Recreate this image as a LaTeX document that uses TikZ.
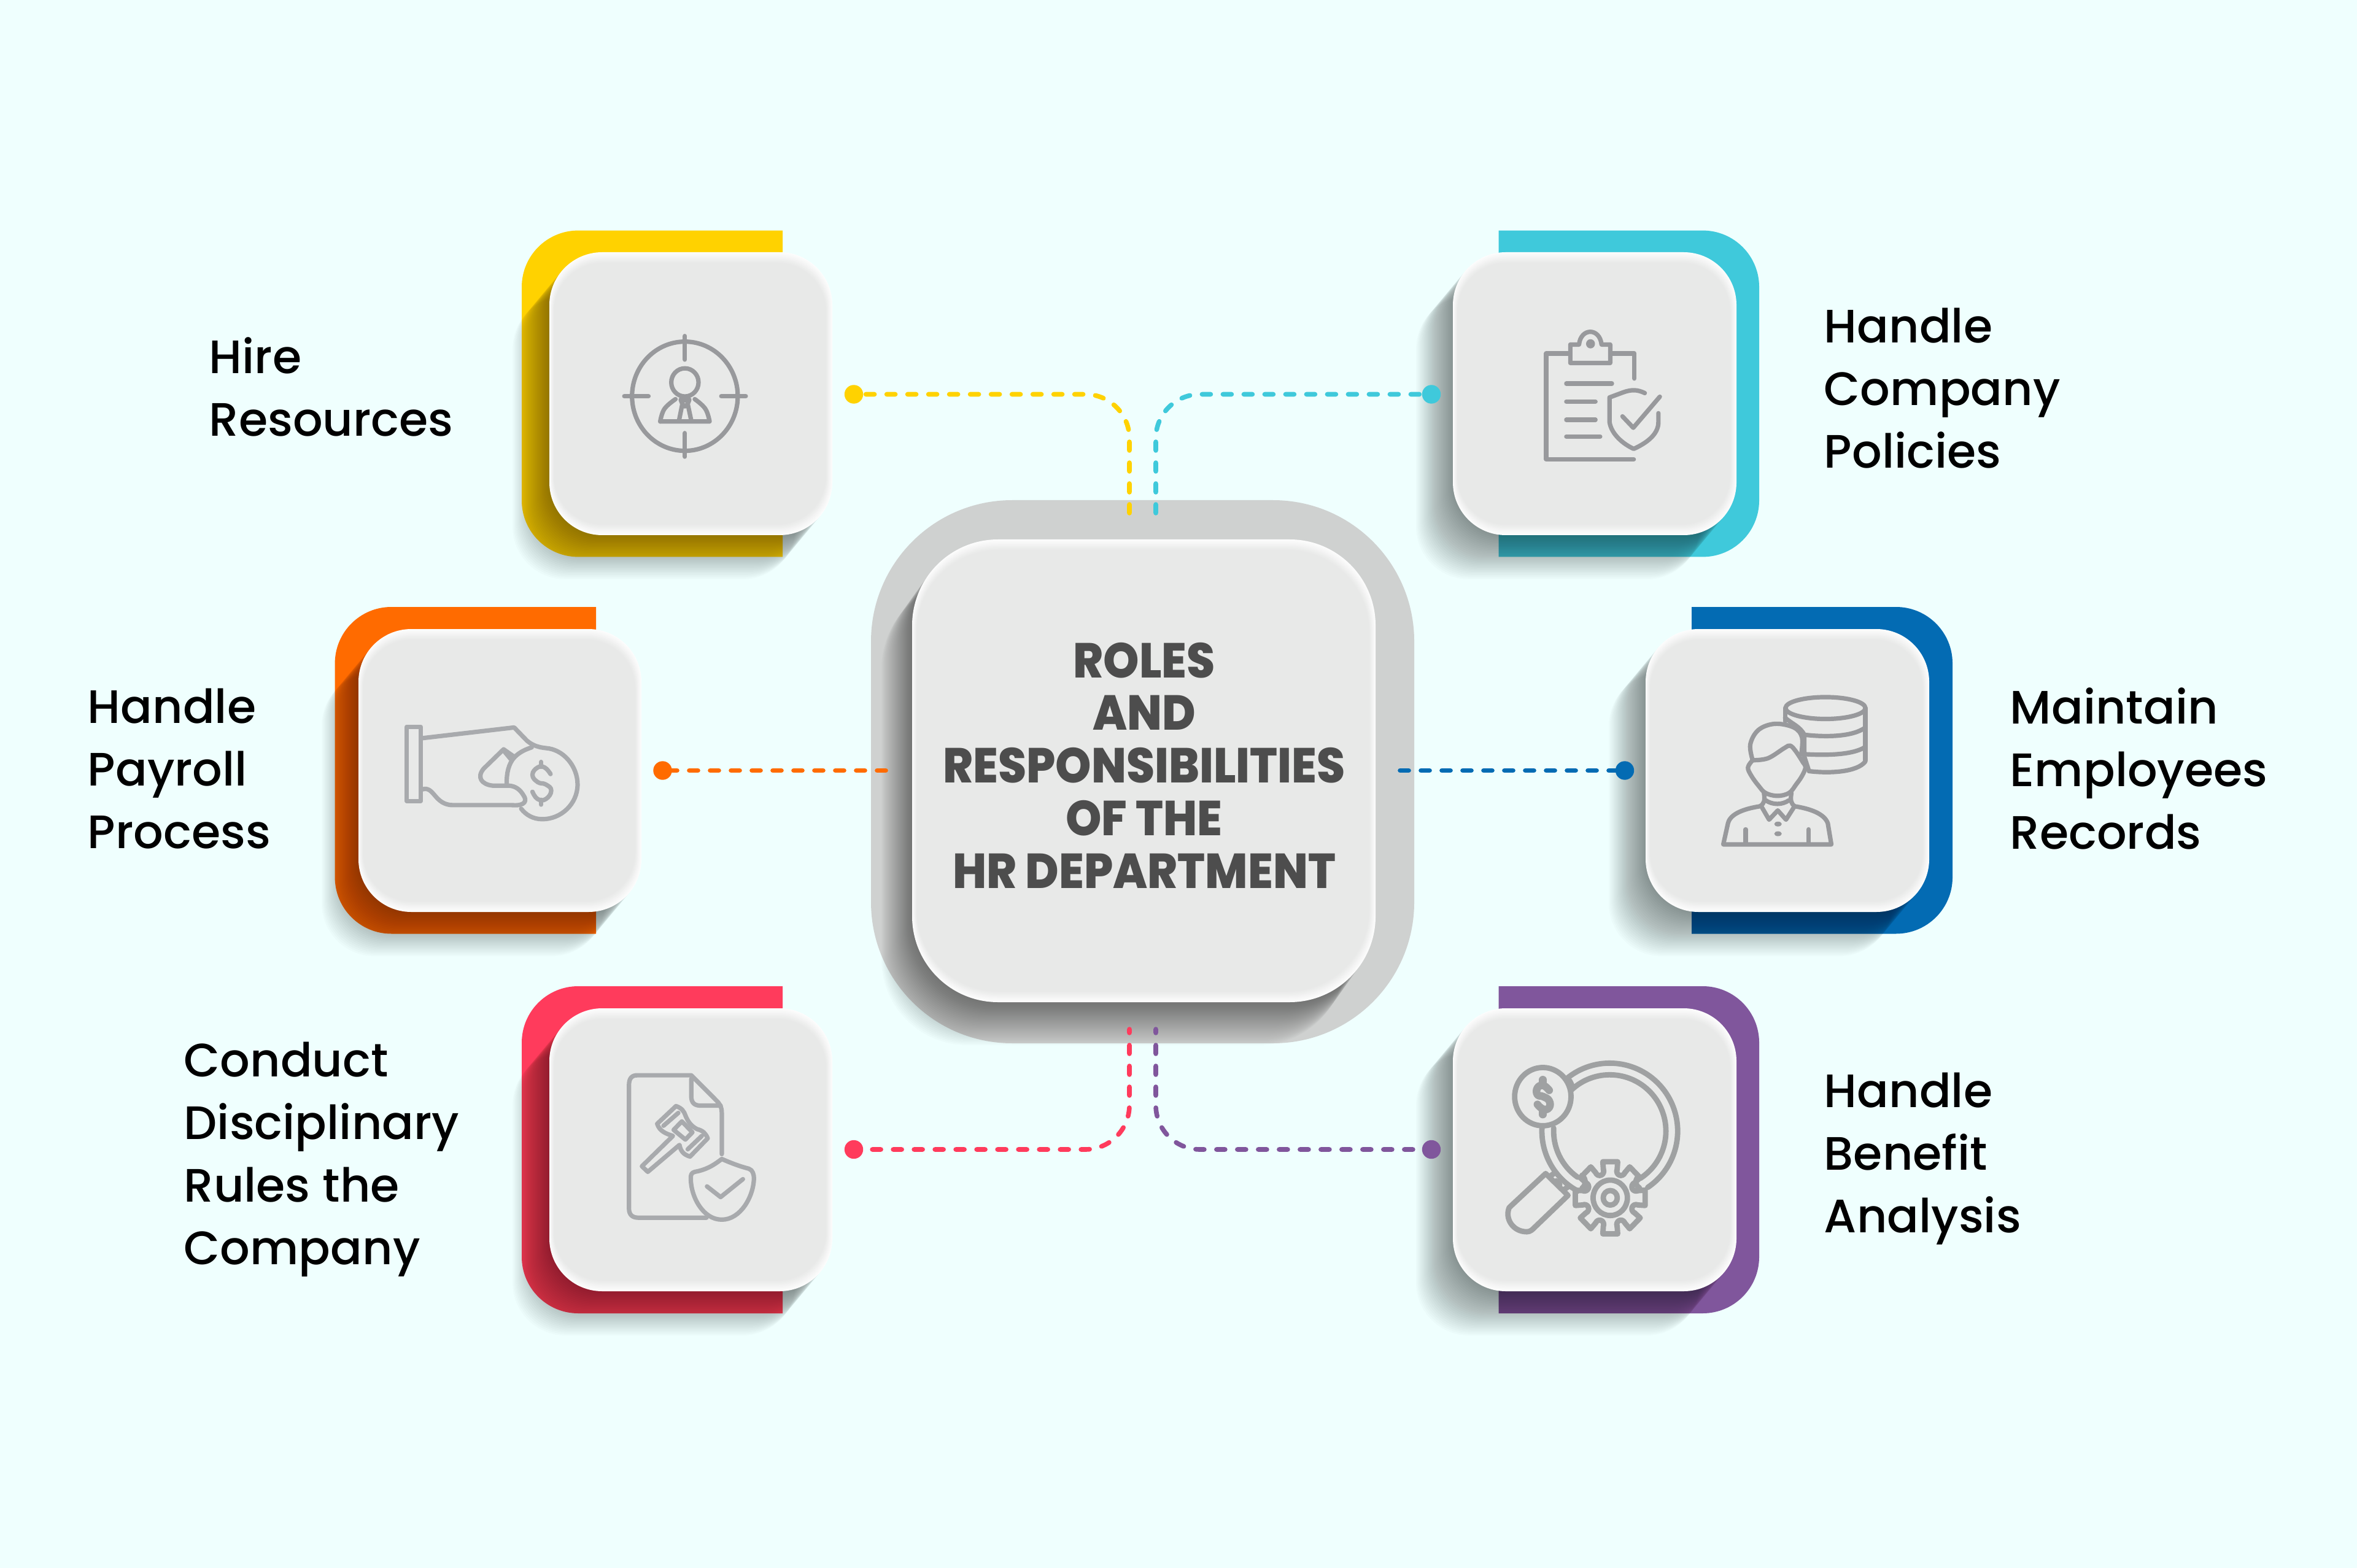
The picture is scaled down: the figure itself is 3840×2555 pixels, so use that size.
\documentclass[tikz,border=0pt]{standalone}
\usepackage{fontspec}
\newfontfamily\labfont{Poppins Medium}
\newfontfamily\hubfont{Poppins ExtraBold}[FakeStretch=0.93]
\definecolor{bgc}{HTML}{EFFFFE}
\definecolor{cardc}{HTML}{E8E9E8}
\definecolor{edgec}{HTML}{FDFDFD}
\definecolor{hubback}{HTML}{CFD1D0}
\definecolor{cyel}{HTML}{FFD200}
\definecolor{ccya}{HTML}{3FC9DB}
\definecolor{cora}{HTML}{FF6B00}
\definecolor{cblu}{HTML}{036BB3}
\definecolor{cred}{HTML}{FF3B5C}
\definecolor{cpur}{HTML}{80569C}
\definecolor{icona}{HTML}{98999C}
\definecolor{iconb}{HTML}{A8AAAD}
\definecolor{iconc}{HTML}{9FA1A2}
\definecolor{hubtextc}{HTML}{4D4D4D}
\tikzset{
  labelnode/.style={anchor=west,align=left,inner sep=0pt,text=black,font=\labfont\fontsize{19.1}{25.5}\selectfont},
  hubnode/.style={align=center,inner sep=0pt,text=hubtextc,font=\hubfont\fontsize{20}{21.45}\selectfont},
  conn/.style={line width=1.9pt,line cap=round,dash pattern=on 3.5pt off 5pt,rounded corners=18pt},
  dotnode/.style={circle,inner sep=0pt,minimum size=7.6pt},
  iconline/.style={line width=1.8pt,line cap=round,line join=round},
}
% soft card: x0 y0 x1 y1 radius shiftx shifty
\newcommand{\softcard}[7]{%
  \foreach \k in {1,...,30}{%
    \fill[black,opacity=.0165,shift={({#6*\k/30},{#7*\k/30})},rounded corners=#5*0.25pt]
      (#1,#2) rectangle (#3,#4);}%
  \foreach \i in {0,...,14}{%
    \pgfmathtruncatemacro{\pc}{100-\i*100/14}%
    \pgfmathsetmacro{\ix}{#1+\i*0.55}%
    \pgfmathsetmacro{\iX}{#3-\i*0.75}%
    \pgfmathsetmacro{\iy}{#2+\i*1.25}%
    \pgfmathsetmacro{\iY}{#4-\i*1.25}%
    \pgfmathsetmacro{\rr}{(#5-\i*0.5)*0.25}%
    \fill[edgec!\pc!cardc,rounded corners=\rr pt] (\ix,\iy) rectangle (\iX,\iY);}%
}
\newcommand{\backleft}[6]{% colour x0 y0 x1 y1 r: rounded on the left
  \fill[#1] (#4,#3) [rounded corners=#6*0.25pt] -- (#2,#3) -- (#2,#5) [sharp corners] -- (#4,#5) -- cycle;}
\newcommand{\backright}[6]{% colour x0 y0 x1 y1 r: rounded on the right
  \fill[#1] (#2,#3) [rounded corners=#6*0.25pt] -- (#4,#3) -- (#4,#5) [sharp corners] -- (#2,#5) -- cycle;}
\begin{document}
\begin{tikzpicture}[x=0.25pt,y=-0.25pt]
\useasboundingbox (0,0) rectangle (3840,2555);
\fill[bgc] (0,0) rectangle (3840,2555);

% hub
\fill[hubback,rounded corners=57.5pt] (1419,815) rectangle (2304,1700);
\softcard{1486}{879}{2241}{1633}{140}{-50}{70}

% cards
\backleft{cyel}{850}{375.6}{1275}{907.4}{92}
\softcard{895}{411}{1356}{872}{86}{-60}{72}
\backright{ccya}{2441.6}{375.6}{2866}{907.4}{92}
\softcard{2367}{411}{2829}{872}{86}{-60}{72}
\backleft{cora}{545.6}{989}{971}{1521.5}{92}
\softcard{584}{1025}{1045}{1486}{86}{-60}{72}
\backright{cblu}{2756}{989}{3181}{1521.5}{92}
\softcard{2681}{1025}{3143}{1486}{86}{-60}{72}
\backleft{cred}{850}{1607}{1275}{2140}{92}
\softcard{895}{1643}{1356}{2104}{86}{-60}{72}
\backright{cpur}{2441.6}{1607}{2866}{2140}{92}
\softcard{2367}{1643}{2829}{2104}{86}{-60}{72}

% hub text
\node[hubnode] (hubtext) at (1864,1247) {ROLES\\AND\\RESPONSIBILITIES\\OF THE\\HR DEPARTMENT};

% connector anchors
\coordinate (h1) at (1840,836);
\coordinate (h2) at (1883,836);
\coordinate (h3) at (1443,1255.5);
\coordinate (h4) at (2281,1255.5);
\coordinate (h5) at (1840,1677);
\coordinate (h6) at (1883,1677);

% dots
\node[dotnode,fill=cyel] (d1) at (1391,642.5) {};
\node[dotnode,fill=ccya] (d2) at (2332,642.5) {};
\node[dotnode,fill=cora] (d3) at (1079.5,1255.5) {};
\node[dotnode,fill=cblu] (d4) at (2647,1255.5) {};
\node[dotnode,fill=cred] (d5) at (1391,1873) {};
\node[dotnode,fill=cpur] (d6) at (2332,1873) {};

% connectors
\draw[conn,cyel] (h1) |- (d1.center);
\draw[conn,ccya] (h2) |- (d2.center);
\draw[conn,cora] (h3) -- (d3.center);
\draw[conn,cblu] (h4) -- (d4.center);
\draw[conn,cred,dash phase=2pt] (h5) |- (d5.center);
\draw[conn,cpur,dash phase=2pt] (h6) |- (d6.center);

% labels
\node[labelnode] (l1) at (340,630.5) {Hire\\Resources};
\node[labelnode] (l2) at (2971,633) {Handle\\Company\\Policies};
\node[labelnode] (l3) at (142,1253) {Handle\\Payroll\\Process};
\node[labelnode] (l4) at (3274,1252.5) {Maintain\\Employees\\Records};
\node[labelnode] (l5) at (299,1889) {Conduct\\Disciplinary\\Rules the\\Company};
\node[labelnode] (l6) at (2971,1888) {Handle\\Benefit\\Analysis};

% icon 1: target
\begin{scope}[shift={(820,340)},x=0.09567pt,y=-0.09885pt,iconline,draw=icona]
\draw (773,773) ellipse [x radius=225,y radius=225];
\draw (773,525) -- (773,622) (773,925) -- (773,1022) (515,773) -- (618,773) (928,773) -- (1032,773);
\draw (773,716) ellipse [x radius=58,y radius=58];
\draw (668,877) -- (878,877) plot [smooth,tension=.7] coordinates {(878,877) (860,825) (815,785)} ;
\draw plot [smooth,tension=.7] coordinates {(668,877) (686,825) (733,785)};
\draw (748,873) -- (762,805) -- (755,787) (800,873) -- (785,805) -- (792,787);
\draw (762,805) -- (773,815) -- (785,805) (760,790) -- (790,790);
\end{scope}

% icon 2: clipboard
\begin{scope}[shift={(2300,340)},x=0.09567pt,y=-0.09885pt,iconline,draw=icona]
\draw (948,700) -- (948,597) -- (855,597) (665,597) -- (572,597) -- (572,1033) -- (945,1033);
\draw (675,636) -- (675,560) -- (712,560) .. controls (720,490) and (800,490) .. (808,560) -- (845,560) -- (845,636) -- cycle;
\fill[icona] (761,557) ellipse [x radius=19,y radius=19];
\draw (658,721) -- (852,721) (658,795) -- (782,795) (658,870) -- (782,870) (658,939) -- (802,939);
\draw (992,760) .. controls (960,745) and (935,745) .. (900,757) -- (842,778) -- (842,880) .. controls (850,930) and (900,970) .. (945,990) .. controls (990,970) and (1050,935) .. (1050,880) -- (1050,843);
\draw (897,856) -- (943,903) -- (1056,775);
\end{scope}

% icon 3: hand with coin
\begin{scope}[shift={(520,960)},x=0.09567pt,y=-0.09885pt,iconline,draw=iconb]
\draw (373,567) -- (432,567) -- (432,873) -- (373,873) -- cycle;
\draw (440,614) -- (830,570) -- (885,625) .. controls (910,645) and (935,652) .. (965,655) .. controls (1040,660) and (1100,730) .. (1100,805) .. controls (1100,885) and (1030,948) .. (950,948) .. controls (910,948) and (880,930) .. (860,905);
\draw (440,825) .. controls (490,810) and (490,890) .. (570,890) -- (820,890) .. controls (880,895) and (885,870) .. (870,850) .. controls (855,825) and (835,812) .. (810,810) -- (740,810) .. controls (690,805) and (670,775) .. (700,740) -- (785,660) -- (832,692) .. controls (855,670) and (880,660) .. (905,652);
\draw (832,692) .. controls (805,720) and (798,760) .. (798,800);
\draw (785,665) -- (815,700);
\draw plot [smooth,tension=.8] coordinates {(985,762) (960,735) (930,735) (908,765) (930,795) (965,805) (988,830) (965,865) (930,865) (908,835)};
\draw (945,712) -- (945,732) (945,868) -- (945,888);
\end{scope}

% icon 4: person and database
\begin{scope}[shift={(2620,960)},x=0.09567pt,y=-0.09885pt,iconline,draw=icona]
\draw (925,490) ellipse [x radius=170,y radius=45];
\draw (753,490) -- (753,545) (1095,490) -- (1095,705);
\draw (753,530) .. controls (790,560) and (815,565) .. (835,600) .. controls (920,610) and (1040,610) .. (1095,570);
\draw (835,680) .. controls (920,685) and (1040,685) .. (1095,650);
\draw (855,750) .. controls (940,760) and (1060,755) .. (1095,710);
\draw (835,610) -- (835,690) -- (855,750);
\draw plot [smooth,tension=.6] coordinates {(615,705) (605,640) (640,580) (710,555) (790,570) (825,610) (822,680)};
\draw plot [smooth,tension=.6] coordinates {(615,705) (680,697) (750,655) (775,645) (800,670) (830,715)};
\draw plot [smooth,tension=.6] coordinates {(615,705) (595,735) (610,770) (640,810) (670,840) (720,852) (770,840) (800,805) (825,770) (840,735) (830,715)};
\draw (663,840) .. controls (668,870) and (665,885) .. (645,895) .. controls (580,905) and (520,925) .. (510,965) -- (490,1052) -- (950,1052) -- (935,965) .. controls (920,925) and (860,905) .. (795,895) .. controls (778,885) and (775,870) .. (780,840);
\draw (670,870) .. controls (700,890) and (740,890) .. (770,870);
\draw (655,900) -- (685,950) -- (722,912) -- (757,950) -- (790,900);
\fill[icona] (723,968) ellipse [x radius=16,y radius=10] (723,1008) ellipse [x radius=16,y radius=10];
\draw (585,990) -- (585,1045) (853,990) -- (853,1045);
\end{scope}

% icon 5: document, gavel, shield
\begin{scope}[shift={(820,1590)},x=0.09567pt,y=-0.09885pt,iconline,draw=iconb]
\draw (930,735) -- (930,565) .. controls (930,540) and (920,525) .. (905,512) -- (800,410) -- (570,410) .. controls (545,410) and (535,425) .. (535,450) -- (535,960) .. controls (535,985) and (550,997) .. (575,997) -- (865,997);
\draw (800,425) -- (800,495) .. controls (800,525) and (815,535) .. (840,535) -- (925,535);
% gavel outline
\draw (735,537) .. controls (760,545) and (770,560) .. (775,575) .. controls (785,600) and (800,620) .. (825,632) .. controls (850,638) and (862,650) .. (870,670) -- (795,745) .. controls (770,738) and (755,725) .. (750,697) -- (615,808) -- (590,785) -- (722,660) .. controls (690,650) and (665,640) .. (655,610) -- cycle;
\draw (682,618) -- (745,565) (785,715) -- (845,660);
\draw (725,635) -- (760,600) -- (805,645) -- (775,675) -- cycle;
\draw (930,755) .. controls (890,785) and (860,800) .. (815,808) .. controls (800,812) and (798,820) .. (798,835) .. controls (798,910) and (850,1005) .. (930,1005) .. controls (1010,1005) and (1065,910) .. (1067,835) .. controls (1067,820) and (1062,800) .. (1045,795) .. controls (1005,785) and (965,770) .. (930,755);
\draw (867,868) -- (925,912) -- (1020,838);
\end{scope}

% icon 6: magnifier, gear, dollar coin
\begin{scope}[shift={(2300,1590)},x=0.09567pt,y=-0.09885pt,line width=2.2pt,line cap=round,line join=round,draw=iconc]
\draw ([shift={(230:289 and 280)}]843,640) arc [start angle=230,end angle=416,x radius=289,y radius=280];
\draw ([shift={(227:239 and 232)}]843,640) arc [start angle=227,end angle=417,x radius=239,y radius=232];
\draw ([shift={(183:289 and 280)}]843,640) arc [start angle=183,end angle=118,x radius=289,y radius=280];
\draw ([shift={(183:239 and 232)}]843,640) arc [start angle=183,end angle=125,x radius=239,y radius=232];
\draw (725,822) .. controls (745,840) and (740,865) .. (725,875);
\draw (965,825) .. controls (945,850) and (955,865) .. (970,875);
\draw (672,432) -- (682,452);
\draw (558,498) ellipse [x radius=120,y radius=120];
\draw[line width=3.1pt] plot [smooth,tension=.8] coordinates {(585,472) (560,452) (535,462) (535,490) (560,498) (585,515) (585,543) (560,550) (535,530)};
\draw[line width=3.1pt] (558,428) -- (558,445) (558,555) -- (558,572);
\begin{scope}[shift={(845,915)}]
\foreach \a in {0,45,...,315}{
\draw (\a-14:122) -- (\a-12:152) -- (\a+12:152) -- (\a+14:122) .. controls (\a+12:96) and (\a+33:96) .. (\a+31:122);
}
\draw (0,0) ellipse [x radius=73,y radius=73];
\draw (0,0) ellipse [x radius=30,y radius=30];
\end{scope}
\draw (570,815) -- (415,955) .. controls (395,1000) and (430,1055) .. (490,1055) .. controls (505,1055) and (515,1045) .. (525,1035) -- (665,905) -- cycle;
\draw (590,825) -- (605,815) (650,880) -- (665,870);
\draw (615,845) -- (630,860);
\end{scope}
\end{tikzpicture}
\end{document}
